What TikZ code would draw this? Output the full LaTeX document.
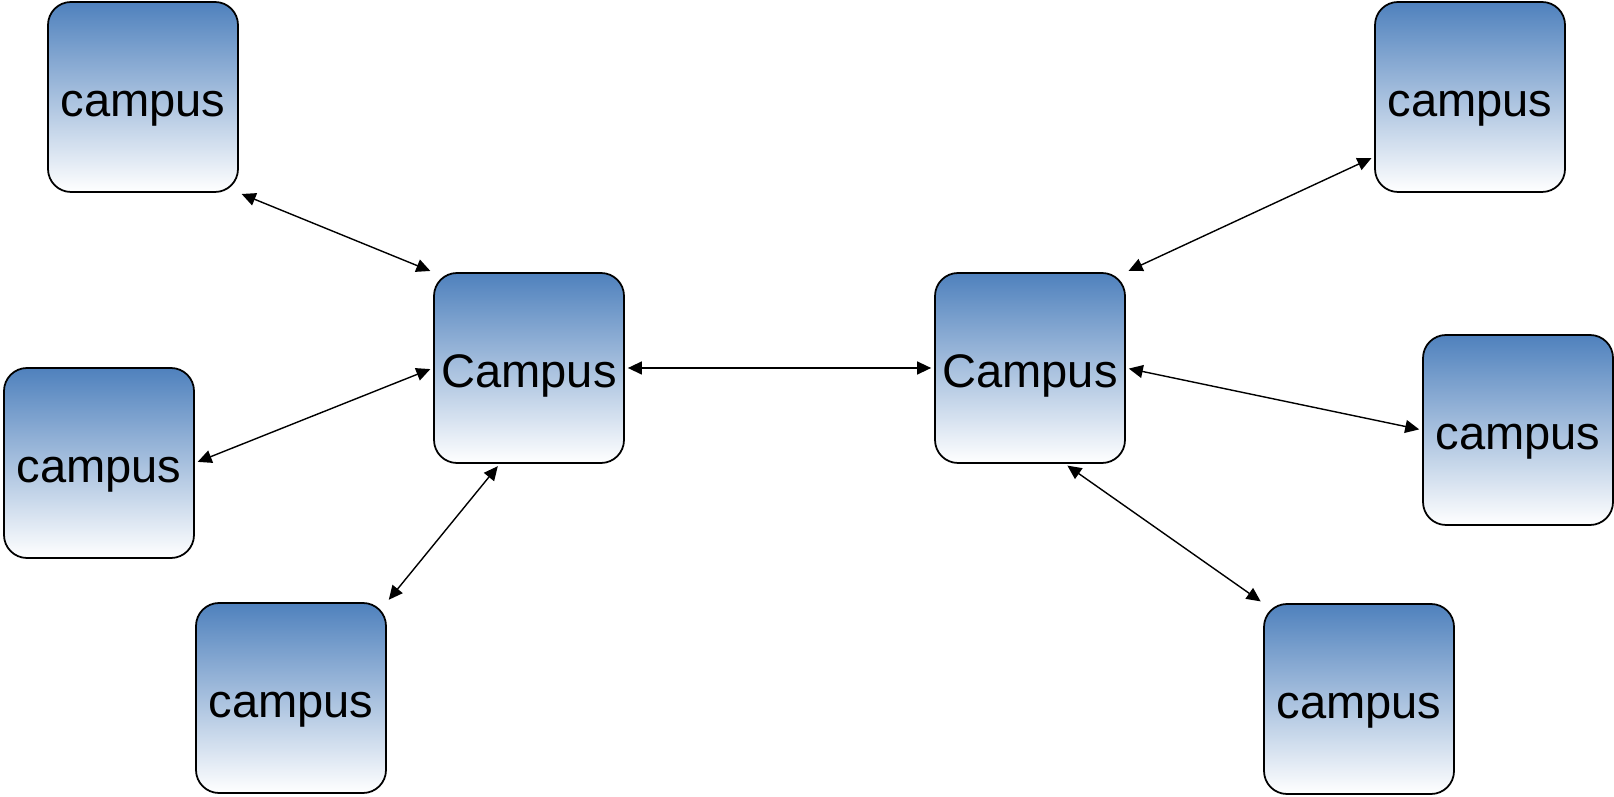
\documentclass[tikz,border=0pt]{standalone}
\usepackage{fontspec}
\setmainfont{Liberation Sans}
\usetikzlibrary{arrows.meta}
\definecolor{campusblue}{HTML}{4F81BD}
\tikzset{
	campus/.style={draw, line width=0.5pt, rounded corners=2.3mm,
		minimum width=1.9cm, minimum height=1.9cm, inner sep=0pt,
		text height=4mm, text depth=0pt,
		top color=campusblue, middle color=campusblue!35!white, bottom color=white,
		font=\fontsize{13.4}{16}\selectfont},
	link/.style={{Triangle[length=1.4mm,width=1.3mm]}-{Triangle[length=1.4mm,width=1.3mm]},
		line width=0.4pt, shorten <=0.3mm, shorten >=0.3mm}
}
\begin{document}
\begin{tikzpicture}
	\useasboundingbox (0,0) rectangle (16.14,7.97);

	% centri
	\node[campus] (cl) at (5.29,4.29) {Campus};
	\node[campus] (cr) at (10.30,4.29) {Campus};

	% sinistra
	\node[campus] (tl) at (1.43,7.00) {campus};
	\node[campus] (ml) at (0.99,3.34) {campus};
	\node[campus] (bl) at (2.91,0.99) {campus};

	% destra
	\node[campus] (tr) at (14.70,7.00) {campus};
	\node[campus] (mr) at (15.18,3.67) {campus};
	\node[campus] (br) at (13.59,0.98) {campus};

	% collegamenti
	\draw[link] (tl.south east) -- (cl.north west);
	\draw[link] (ml.east) -- (cl.west);
	\draw[link] (bl.north east) -- (cl.-107);
	\draw[link] (cl.east) -- (cr.west);
	\draw[link] (cr.north east) -- (tr.212);
	\draw[link] (cr.east) -- (mr.west);
	\draw[link] (cr.-70) -- (br.north west);

\end{tikzpicture}
\end{document}
